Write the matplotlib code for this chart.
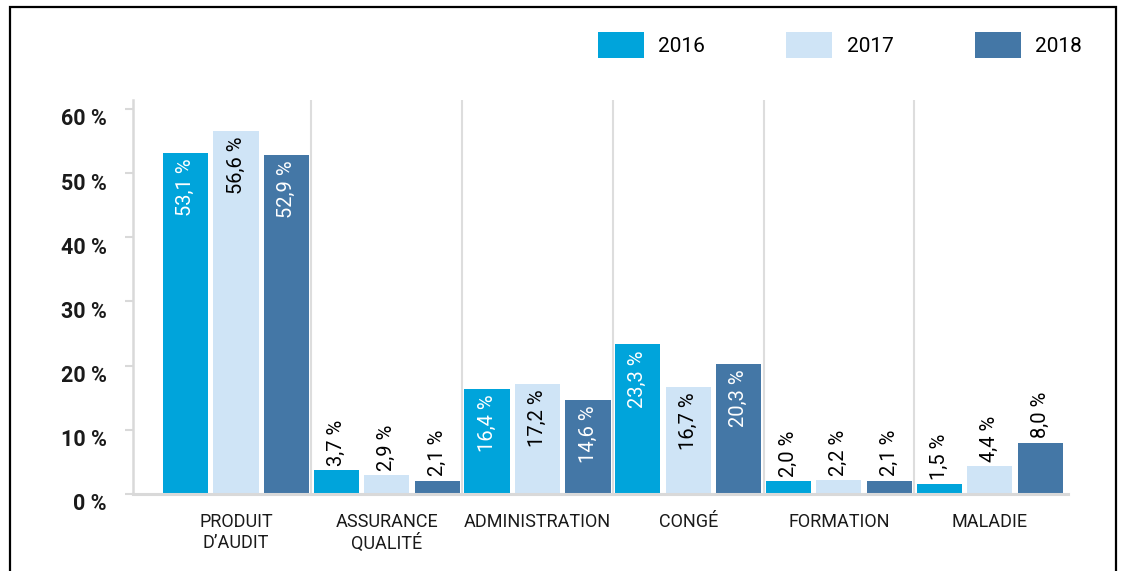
import numpy as np
import matplotlib.pyplot as plt
import matplotlib.transforms as mtransforms
from matplotlib.patches import Rectangle

# donnees
categories = ["PRODUIT\nD\u2019AUDIT", "ASSURANCE\nQUALIT\u00c9", "ADMINISTRATION",
              "CONG\u00c9", "FORMATION", "MALADIE"]
annees = ["2016", "2017", "2018"]
val_2016 = [53.1, 3.7, 16.4, 23.3, 2.0, 1.5]
val_2017 = [56.6, 2.9, 17.2, 16.7, 2.2, 4.4]
val_2018 = [52.9, 2.1, 14.6, 20.3, 2.1, 8.0]
y_ticks = [0, 10, 20, 30, 40, 50, 60]

couleurs = ["#00a4db", "#cfe4f6", "#4477a6"]
couleurs_txt = ["white", "black", "white"]

plt.rcParams['font.family'] = ['Roboto', 'DejaVu Sans']

fig = plt.figure(figsize=(11.21, 5.71), dpi=100)
ax = fig.add_axes([133/1121, 1-494/571, (1068-133)/1121, (494-100)/571])

x = np.arange(len(categories))
largeur = 0.30
decal = [-0.335, 0, 0.335]
series = [val_2016, val_2017, val_2018]

for k, (vals, an) in enumerate(zip(series, annees)):
    barres = ax.bar(x + decal[k], vals, largeur, color=couleurs[k], label=an, zorder=3)
    for b, v in zip(barres, vals):
        txt = f"{v:.1f} %".replace(".", ",")
        cx = b.get_x() + b.get_width() / 2
        if v > 10:
            ax.annotate(txt, (cx, v), xytext=(0, -4), textcoords="offset points",
                        rotation=90, ha="center", va="top", fontsize=14.5,
                        color=couleurs_txt[k], zorder=4)
        else:
            ax.annotate(txt, (cx, v), xytext=(0, 3), textcoords="offset points",
                        rotation=90, ha="center", va="bottom", fontsize=14.5,
                        color="black", zorder=4)

# separateurs entre groupes
for i in range(len(categories) - 1):
    ax.axvline(i + 0.5, color="#dddddd", lw=1.5, zorder=1)

ax.set_xlim(-0.683, 5.52)
ax.set_ylim(0, 61.4)
ax.set_yticks(y_ticks)
ax.set_yticklabels([f"{t} %" for t in y_ticks], fontsize=15.5, fontweight="bold", color="#1a1a1a")
ax.set_xticks(x)
ax.set_xticklabels(categories, fontsize=13, color="#1a1a1a", linespacing=1.15)
ax.tick_params(axis="x", length=0, pad=14)
ax.tick_params(axis="y", length=6, width=1.5, color="#d9d9d9", pad=13)

# etiquettes y un peu plus bas que les graduations
decalage = mtransforms.ScaledTranslation(0, -8/100, fig.dpi_scale_trans)
for lab in ax.get_yticklabels():
    lab.set_transform(lab.get_transform() + decalage)

for s in ["top", "right"]:
    ax.spines[s].set_visible(False)
ax.spines["left"].set_color("#d9d9d9")
ax.spines["left"].set_linewidth(1.8)
ax.spines["bottom"].set_color("#d9d9d9")
ax.spines["bottom"].set_linewidth(2.2)
ax.spines["bottom"].set_zorder(5)

fig.legend(loc="center right", bbox_to_anchor=(1082/1121, 1-45/571), ncol=3,
           frameon=False, fontsize=15, handlelength=2.2, handleheight=1.55,
           handletextpad=0.7, columnspacing=3.9, borderpad=0, borderaxespad=0)

# cadre noir
fig.patches.append(Rectangle((10/1121, -0.1), (1116-10)/1121, 1.1 - 7/571,
                             transform=fig.transFigure, fill=False,
                             edgecolor="black", lw=1.6))

fig.savefig("out.png", dpi=100)
